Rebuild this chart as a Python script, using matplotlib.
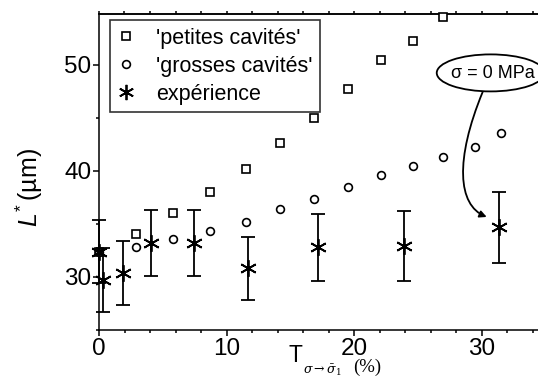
import matplotlib
matplotlib.use("Agg")
import matplotlib.pyplot as plt
from matplotlib.patches import Ellipse, FancyArrowPatch
from matplotlib.path import Path
from matplotlib.ticker import MultipleLocator
from matplotlib.lines import Line2D

plt.rcParams['font.family'] = ['Liberation Sans', 'DejaVu Sans']
plt.rcParams['mathtext.fontset'] = 'custom'
plt.rcParams['mathtext.rm'] = 'Liberation Sans'
plt.rcParams['mathtext.it'] = 'Liberation Sans:italic'

# ---- data ----
T_sim = [0.0, 2.9, 5.8, 8.7, 11.55, 14.2, 16.85, 19.5, 22.1, 24.6, 27.0, 29.5, 31.55]
L_petites = [32.4, 34.1, 36.0, 38.05, 40.2, 42.6, 45.0, 47.7, 50.5, 52.3, 54.5]
L_grosses = [32.4, 32.85, 33.55, 34.3, 35.2, 36.4, 37.4, 38.45, 39.6, 40.5, 41.35, 42.3, 43.6]

T_exp = [0.0, 0.3, 1.9, 4.1, 7.45, 11.7, 17.2, 23.9, 31.4]
L_exp = [32.4, 29.7, 30.35, 33.2, 33.2, 30.8, 32.8, 32.9, 34.7]
L_err = [3.0, 3.0, 3.0, 3.15, 3.15, 3.0, 3.15, 3.3, 3.35]

legend_labels = ["'petites cavités'", "'grosses cavités'", "expérience"]
annot_text = "σ = 0 MPa"

W, H = 538, 385
fig = plt.figure(figsize=(W / 100, H / 100), dpi=100)
ax = fig.add_axes([99 / W, 55 / H, 459 / W, 316 / H])

ast = (6, 2, 0)

ax.plot(T_sim[:len(L_petites)], L_petites, ls='none', marker='s', ms=5.2,
        mfc='white', mec='black', mew=1.2, clip_on=False, zorder=3)
ax.plot(T_sim[:len(L_grosses)], L_grosses, ls='none', marker='o', ms=5.6,
        mfc='white', mec='black', mew=1.2, clip_on=False, zorder=3)
ax.errorbar(T_exp, L_exp, yerr=L_err, fmt='none', ecolor='black',
            elinewidth=1.3, capsize=5, capthick=1.3, clip_on=False, zorder=4)
ax.plot(T_exp, L_exp, ls='none', marker=ast, ms=12, mec='black', mew=1.3,
        clip_on=False, zorder=5)

ax.set_xlim(0, 36)
ax.set_ylim(25, 54.8)
ax.xaxis.set_major_locator(MultipleLocator(10))
ax.xaxis.set_minor_locator(MultipleLocator(2))
ax.yaxis.set_major_locator(MultipleLocator(10))
ax.yaxis.set_minor_locator(MultipleLocator(5))
for s in ax.spines.values():
    s.set_linewidth(1.1)
ax.tick_params(which='major', direction='out', length=4.5, width=1.1,
               labelsize=17.5, pad=1.0)
ax.tick_params(which='minor', direction='out', length=2.5, width=1.1)
ax.tick_params(top=False, right=False)

sec = ax.secondary_xaxis('top')
sec.xaxis.set_major_locator(MultipleLocator(2))
sec.tick_params(direction='out', length=2.5, width=1.1, labeltop=False)
sec.spines['top'].set_linewidth(1.1)

# y label
fig.text(29 / W, 1 - 187 / H, r'$L^{*}\,$(µm)', rotation=90, ha='center',
         va='center', fontsize=18)

# x label pieces
fig.text(295 / W, 1 - 356 / H, 'T', fontsize=16.5, ha='center', va='center')
fig.text(303 / W, 1 - 370 / H, r'$\sigma\rightarrow\bar{\sigma}_{1}$',
         fontsize=9, ha='left', va='center', math_fontfamily='dejavuserif')
fig.text(353 / W, 1 - 367 / H, '(%)', fontsize=13.5, ha='left', va='center',
         family='Liberation Serif')

# legend
handles = [
    Line2D([], [], ls='none', marker='s', ms=5.2, mfc='white', mec='black', mew=1.2),
    Line2D([], [], ls='none', marker='o', ms=5.6, mfc='white', mec='black', mew=1.2),
    Line2D([], [], ls='none', marker=ast, ms=11, mec='black', mew=1.3),
]
leg = fig.legend(handles, legend_labels, loc='upper left',
                 bbox_to_anchor=(110 / W, 1 - 20 / H), fontsize=15.5,
                 frameon=True, fancybox=False, borderpad=0.35,
                 handlelength=0.8, handletextpad=1.0, labelspacing=0.33,
                 borderaxespad=0)
leg.get_frame().set_edgecolor('black')
leg.get_frame().set_linewidth(1.2)

# annotation: ellipse with text and curved arrow
px = lambda x: (x - 99) / 12.76
py = lambda y: 40 + (171 - y) / 10.6
ell = Ellipse((px(491), py(73)), width=108 / 12.76, height=37 / 10.6,
              facecolor='white', edgecolor='black', lw=1.3, zorder=6,
              clip_on=False)
ax.add_patch(ell)
ax.text(px(493), py(74), annot_text, fontsize=13, ha='center', va='center',
        zorder=7, clip_on=False)

verts = [(px(483), py(92)), (px(455), py(160)), (px(458), py(205)),
         (px(487), py(217))]
codes = [Path.MOVETO, Path.CURVE4, Path.CURVE4, Path.CURVE4]
arrow = FancyArrowPatch(path=Path(verts, codes), arrowstyle='-|>',
                        mutation_scale=10, color='black', lw=1.3, zorder=6)
ax.add_patch(arrow)

fig.savefig('out.png', dpi=100)
